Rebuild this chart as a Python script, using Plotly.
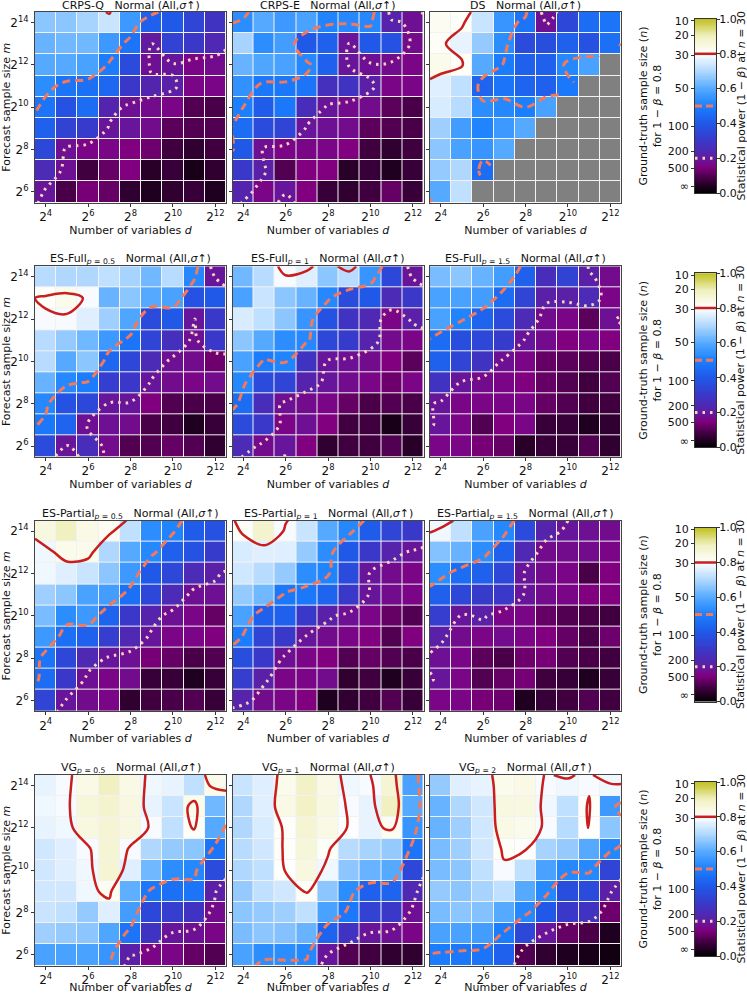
import numpy as np
import plotly.graph_objects as go

W, H = 747, 994
nan = float('nan')

# log2 of number of variables d (columns) and forecast sample size m (rows, top -> bottom)
d_exp = [4, 5, 6, 7, 8, 9, 10, 11, 12]
m_exp = [14, 13, 12, 11, 10, 9, 8, 7, 6]

names = ['CRPS-Q', 'CRPS-E', 'DS',
         'ES-Full<sub><i>p</i> = 0.5</sub>', 'ES-Full<sub><i>p</i> = 1</sub>', 'ES-Full<sub><i>p</i> = 1.5</sub>',
         'ES-Partial<sub><i>p</i> = 0.5</sub>', 'ES-Partial<sub><i>p</i> = 1</sub>', 'ES-Partial<sub><i>p</i> = 1.5</sub>',
         'VG<sub><i>p</i> = 0.5</sub>', 'VG<sub><i>p</i> = 1</sub>', 'VG<sub><i>p</i> = 2</sub>']
scenario = 'Normal (All,<i>σ</i>↑)'

# statistical power, rows m=2^14 (top) ... m=2^6 (bottom)
crps_q = [
    [.66, .66, .69, .73, .56, .42, .40, .34, .28],
    [.62, .63, .63, .56, .47, .20, .33, .30, .24],
    [.60, .60, .58, .49, .36, .18, .19, .16, .17],
    [.53, .47, .46, .44, .30, .23, .21, .16, .16],
    [.47, .38, .45, .23, .18, .17, .16, .10, .09],
    [.42, .33, .31, .19, .19, .17, .11, .10, .10],
    [.35, .18, .16, .16, .15, .13, .08, .06, .08],
    [.25, .18, .08, .12, .15, .05, .07, .03, .06],
    [.19, .09, .14, .12, .06, .04, .06, .07, .04]]
crps_e = [
    [.53, .60, .56, .58, .51, .52, .52, .22, .18],
    [.69, .53, .57, .40, .42, .19, .40, .38, .17],
    [.62, .59, .58, .52, .42, .19, .18, .17, .16],
    [.54, .48, .48, .47, .27, .28, .21, .16, .16],
    [.50, .41, .48, .26, .19, .17, .17, .11, .09],
    [.45, .36, .34, .19, .18, .17, .11, .10, .09],
    [.40, .18, .16, .16, .16, .15, .08, .06, .08],
    [.30, .21, .10, .15, .15, .05, .07, .04, .07],
    [.23, .16, .19, .15, .07, .06, .08, .12, .07]]
ds = [
    [.82, .81, .73, .55, .47, .18, .35, .45, .47],
    [.81, .77, .67, .53, .36, .37, .42, .38, .46],
    [.83, .81, .60, .49, .42, .42, .52, .58, nan],
    [.76, .72, .43, .47, .43, .42, .48, nan, nan],
    [.75, .71, .53, .52, .50, .58, nan, nan, nan],
    [.68, .57, .51, .56, .60, nan, nan, nan, nan],
    [.66, .58, .55, .60, nan, nan, nan, nan, nan],
    [.67, .70, .45, nan, nan, nan, nan, nan, nan],
    [.60, .72, nan, nan, nan, nan, nan, nan, nan]]
es_full_05 = [
    [.71, .70, .70, .72, .69, .63, .71, .52, .19],
    [.81, .83, .79, .62, .66, .60, .58, .38, .40],
    [.79, .79, .76, .68, .59, .36, .40, .19, .30],
    [.71, .67, .63, .56, .47, .34, .27, .18, .30],
    [.71, .60, .66, .44, .35, .25, .18, .17, .13],
    [.62, .52, .49, .32, .30, .19, .17, .16, .17],
    [.52, .38, .35, .19, .19, .15, .10, .09, .09],
    [.48, .43, .18, .18, .17, .09, .08, .04, .07],
    [.36, .19, .26, .17, .10, .10, .12, .10, .06]]
es_full_1 = [
    [.63, .71, .79, .76, .66, .71, .55, .35, .19],
    [.58, .73, .66, .62, .52, .36, .40, .25, .30],
    [.75, .72, .66, .55, .38, .28, .24, .16, .21],
    [.66, .60, .53, .52, .35, .31, .22, .17, .16],
    [.58, .49, .51, .28, .19, .18, .17, .15, .11],
    [.52, .36, .34, .22, .19, .17, .16, .13, .16],
    [.45, .26, .18, .17, .16, .12, .09, .10, .09],
    [.36, .30, .16, .18, .15, .08, .08, .03, .07],
    [.25, .17, .19, .15, .06, .08, .08, .10, .05]]
es_full_15 = [
    [.64, .66, .62, .57, .42, .26, .33, .21, .17],
    [.58, .58, .57, .45, .34, .21, .21, .25, .16],
    [.58, .51, .43, .36, .25, .17, .16, .11, .18],
    [.45, .37, .35, .31, .19, .17, .15, .16, .15],
    [.42, .34, .28, .18, .16, .12, .11, .10, .09],
    [.28, .19, .17, .16, .15, .12, .10, .08, .10],
    [.19, .16, .16, .16, .16, .12, .10, .08, .08],
    [.19, .16, .10, .15, .16, .07, .07, .04, .06],
    [.16, .16, .14, .12, .05, .07, .07, .10, .06]]
es_part_05 = [
    [.85, .90, .84, .82, .72, .53, .51, .41, .38],
    [.78, .83, .83, .70, .60, .52, .42, .38, .31],
    [.78, .76, .73, .66, .56, .40, .35, .25, .21],
    [.68, .66, .58, .57, .46, .35, .25, .18, .18],
    [.64, .53, .56, .43, .30, .22, .18, .16, .12],
    [.56, .46, .42, .32, .24, .19, .16, .16, .15],
    [.47, .35, .24, .19, .18, .14, .12, .09, .10],
    [.45, .30, .18, .16, .17, .07, .07, .04, .07],
    [.34, .19, .17, .16, .06, .08, .09, .10, .07]]
es_part_1 = [
    [.81, .88, .79, .73, .60, .52, .41, .34, .30],
    [.75, .76, .76, .67, .53, .40, .30, .22, .19],
    [.74, .71, .67, .53, .51, .36, .19, .17, .16],
    [.67, .63, .48, .48, .43, .30, .19, .17, .16],
    [.58, .42, .42, .30, .21, .18, .16, .12, .10],
    [.49, .34, .30, .19, .17, .16, .15, .10, .15],
    [.37, .30, .18, .16, .15, .10, .12, .10, .09],
    [.32, .21, .16, .16, .17, .06, .08, .04, .07],
    [.22, .17, .16, .15, .04, .06, .08, .10, .07]]
es_part_15 = [
    [.78, .72, .58, .52, .36, .22, .19, .18, .17],
    [.65, .62, .53, .42, .24, .17, .17, .17, .16],
    [.53, .45, .42, .35, .19, .17, .16, .09, .15],
    [.42, .35, .31, .30, .19, .17, .16, .15, .15],
    [.32, .19, .21, .16, .16, .12, .10, .09, .08],
    [.21, .17, .16, .17, .16, .15, .12, .09, .13],
    [.18, .16, .11, .09, .13, .14, .10, .09, .08],
    [.19, .16, .10, .12, .14, .08, .07, .04, .07],
    [.16, .16, .14, .13, .04, .07, .08, .10, .08]]
vg_05 = [
    [.77, .79, .84, .90, .84, .78, .77, .72, .83],
    [.78, .79, .86, .88, .85, .77, .73, .83, .63],
    [.77, .78, .85, .87, .85, .79, .72, .81, .60],
    [.74, .76, .79, .87, .79, .70, .67, .66, .47],
    [.74, .76, .78, .87, .76, .63, .53, .52, .36],
    [.74, .74, .78, .82, .61, .48, .46, .47, .21],
    [.73, .72, .67, .76, .57, .35, .32, .28, .17],
    [.68, .67, .66, .59, .47, .28, .19, .18, .16],
    [.58, .58, .58, .55, .21, .16, .16, .12, .10]]
vg_1 = [
    [.73, .76, .83, .89, .84, .78, .79, .87, .58],
    [.70, .76, .84, .89, .85, .79, .77, .90, .60],
    [.70, .75, .81, .87, .84, .795, .77, .82, .55],
    [.71, .74, .81, .86, .81, .71, .69, .67, .47],
    [.70, .72, .805, .85, .78, .66, .62, .60, .35],
    [.67, .72, .74, .81, .66, .53, .42, .43, .24],
    [.66, .67, .68, .72, .58, .48, .33, .30, .18],
    [.64, .66, .65, .62, .43, .28, .19, .18, .16],
    [.58, .53, .53, .52, .19, .10, .08, .06, .06]]
vg_2 = [
    [.67, .76, .77, .83, .84, .79, .78, .79, .78],
    [.62, .70, .74, .85, .85, .78, .72, .81, .56],
    [.62, .68, .74, .84, .83, .79, .71, .805, .66],
    [.64, .68, .74, .81, .805, .69, .67, .60, .52],
    [.64, .66, .72, .79, .72, .58, .52, .52, .34],
    [.67, .66, .69, .72, .60, .52, .37, .36, .21],
    [.64, .66, .65, .60, .52, .40, .30, .28, .13],
    [.58, .58, .57, .49, .35, .19, .12, .09, .04],
    [.49, .48, .47, .42, .10, .06, .04, .03, .02]]

panels = [crps_q, crps_e, ds, es_full_05, es_full_1, es_full_15,
          es_part_05, es_part_1, es_part_15, vg_05, vg_1, vg_2]

levels = [0.8, 0.5, 0.2]
power_ticks = [0.0, 0.2, 0.4, 0.6, 0.8, 1.0]
n_labels = ['10', '20', '30', '50', '100', '200', '500', '∞']
n_pos = [0.99, 0.908, 0.793, 0.602, 0.382, 0.239, 0.143, 0.038]

cscale = [[0.0, '#000000'], [0.08, '#400040'], [0.15, '#800080'], [0.21, '#5a20a8'],
          [0.3, '#3a38c8'], [0.4, '#2058e8'], [0.5, '#1a80ff'], [0.6, '#55aaff'],
          [0.7, '#b0d8ff'], [0.8, '#ffffff'], [0.9, '#f0f0c0'], [1.0, '#c0c020']]

line_style = {0.8: dict(color='#c81e1e', width=2.5, dash='solid'),
              0.5: dict(color='#f4785a', width=3, dash='8px,5px'),
              0.2: dict(color='#fcd2bf', width=3, dash='2.5px,5px')}

font = 'DejaVu Sans'
fs = 11
col_x = [35, 232.5, 430]
pw = 191
row_y = [12, 266.3, 520.6, 775]
ph = 190.5
cb_x = [695, 716]


def dom_x(a, b):
    return [a / W, b / W]


def dom_y(top, bottom):
    return [1 - bottom / H, 1 - top / H]


def pad_grid(z):
    # extend the grid half a cell outwards so contours reach the frame
    z = np.vstack([1.5 * z[0] - 0.5 * z[1], z, 1.5 * z[-1] - 0.5 * z[-2]])
    z = np.hstack([(1.5 * z[:, 0] - 0.5 * z[:, 1])[:, None], z,
                   (1.5 * z[:, -1] - 0.5 * z[:, -2])[:, None]])
    return z


fig = go.Figure()
layout = dict()
annotations = []
x_asc = np.array(d_exp, dtype=float)
y_asc = np.array(m_exp[::-1], dtype=float)
x_pad = np.concatenate([[x_asc[0] - 0.5], x_asc, [x_asc[-1] + 0.5]])
y_pad = np.concatenate([[y_asc[0] - 0.5], y_asc, [y_asc[-1] + 0.5]])
tfont = dict(size=fs, color='#111')

for k, vals in enumerate(panels):
    r, c = divmod(k, 3)
    xs, ys = f'x{k + 1}', f'y{k + 1}'
    z = np.array(vals, dtype=float)[::-1]
    if np.isnan(z).any():
        fig.add_trace(go.Heatmap(z=np.where(np.isnan(z), 1.0, nan), x=x_asc, y=y_asc,
                                 colorscale=[[0, '#808080'], [1, '#808080']], showscale=False,
                                 xgap=1, ygap=1, hoverinfo='skip', xaxis=xs, yaxis=ys))
    fig.add_trace(go.Heatmap(z=z, x=x_asc, y=y_asc, colorscale=cscale, zmin=0, zmax=1,
                             showscale=False, xgap=1, ygap=1, xaxis=xs, yaxis=ys))
    zp = pad_grid(z)
    for lev in levels:
        fig.add_trace(go.Contour(z=zp, x=x_pad, y=y_pad, autocontour=False,
                                 contours=dict(start=lev, end=lev, size=0.1, coloring='none'),
                                 line=dict(smoothing=1, **line_style[lev]), showscale=False,
                                 hoverinfo='skip', xaxis=xs, yaxis=ys))
    x0, y0 = col_x[c], row_y[r]
    layout[f'xaxis{k + 1}'] = dict(
        domain=dom_x(x0, x0 + pw), anchor=ys, range=[3.5, 12.5],
        tickvals=[4, 6, 8, 10, 12], ticktext=[f'2<sup>{v}</sup>' for v in [4, 6, 8, 10, 12]],
        ticks='outside', ticklen=3, tickcolor='#333', showgrid=False, zeroline=False,
        showline=True, mirror=True, linecolor='#444', linewidth=1,
        tickfont=dict(size=12, color='#111'), automargin=False,
        title=dict(text='Number of variables <i>d</i>', font=tfont, standoff=1))
    ya = dict(
        domain=dom_y(y0, y0 + ph), anchor=xs, range=[5.5, 14.5],
        tickvals=[6, 8, 10, 12, 14], ticktext=[f'2<sup>{v}</sup>' for v in [6, 8, 10, 12, 14]],
        showticklabels=(c == 0), ticks='outside', ticklen=3, tickcolor='#333',
        showgrid=False, zeroline=False, showline=True, mirror=True, linecolor='#444', linewidth=1,
        tickfont=dict(size=12, color='#111'), automargin=False)
    if c == 0:
        ya['title'] = dict(text='Forecast sample size <i>m</i>', font=tfont, standoff=3)
    layout[f'yaxis{k + 1}'] = ya
    annotations.append(dict(text=f'{names[k]}\u00a0\u00a0\u00a0{scenario}', showarrow=False,
                            x=(x0 + pw / 2) / W, y=1 - (y0 + 1) / H, xref='paper', yref='paper',
                            xanchor='center', yanchor='bottom', borderpad=0, font=tfont))

grad = np.linspace(0, 1, 201)
for r in range(4):
    xi, yl, yr = 13 + r, 13 + r, 17 + r
    top = row_y[r] + 7
    bot = top + 174
    fig.add_trace(go.Heatmap(z=[[g] for g in grad], x=[0], y=grad, colorscale=cscale,
                             zmin=0, zmax=1, showscale=False, hoverinfo='skip',
                             xaxis=f'x{xi}', yaxis=f'y{yl}'))
    for lev in levels:
        st = dict(line_style[lev])
        if lev == 0.5:
            st['dash'] = '7px,4px'
        fig.add_trace(go.Scatter(x=[-0.5, 0.5], y=[lev, lev], mode='lines', line=st,
                                 hoverinfo='skip', showlegend=False,
                                 xaxis=f'x{xi}', yaxis=f'y{yr}'))
    layout[f'xaxis{xi}'] = dict(domain=dom_x(*cb_x), anchor=f'y{yl}', range=[-0.5, 0.5],
                                showticklabels=False, ticks='', showgrid=False, zeroline=False,
                                showline=True, mirror=True, linecolor='#333', automargin=False)
    layout[f'yaxis{yl}'] = dict(
        domain=dom_y(top, bot), anchor=f'x{xi}', range=[0, 1], side='left',
        tickvals=n_pos, ticktext=n_labels, ticks='outside', ticklen=3, tickcolor='#333',
        showgrid=False, zeroline=False, showline=True, linecolor='#333', automargin=False,
        tickfont=tfont,
        title=dict(text='Ground-truth sample size (<i>n</i>)<br>for 1 − <i>β</i> = 0.8',
                   font=tfont, standoff=3))
    layout[f'yaxis{yr}'] = dict(
        overlaying=f'y{yl}', anchor=f'x{xi}', side='right', range=[0, 1],
        tickvals=power_ticks, ticktext=[f'{v:.1f}' for v in power_ticks],
        ticks='outside', ticklen=3, tickcolor='#333', showgrid=False, zeroline=False,
        showline=True, linecolor='#333', automargin=False, tickfont=tfont,
        ticklabelstandoff=-3)
    annotations.append(dict(text='Statistical power (1 − <i>β</i>) at <i>n</i> = 30',
                            showarrow=False, textangle=-90, x=740.5 / W, y=1 - (top + bot) / 2 / H,
                            xref='paper', yref='paper', xanchor='center', yanchor='middle',
                            borderpad=0, font=tfont))

fig.update_layout(width=W, height=H, margin=dict(l=0, r=0, t=0, b=0),
                  paper_bgcolor='white', plot_bgcolor='#f2f2f2', showlegend=False,
                  font=dict(family=font, color='#111'), annotations=annotations, **layout)
fig.write_html('out.html', config={'displayModeBar': False},
               post_script="document.body.style.margin='0';")
